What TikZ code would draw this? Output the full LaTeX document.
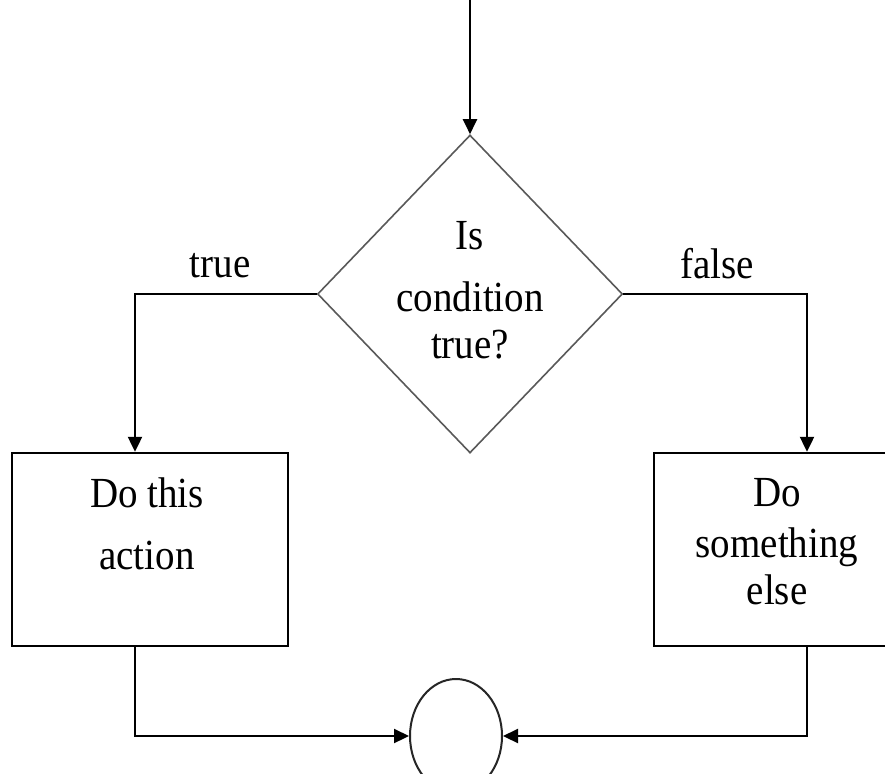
\documentclass[tikz,border=0pt]{standalone}
\usepackage{fontspec}
\setmainfont{Liberation Serif}
\usepackage{graphicx}
\usetikzlibrary{shapes.geometric,arrows.meta}
\newcommand{\stx}[1]{\scalebox{1}[1.1]{\begin{tabular}{@{}c@{}}#1\end{tabular}}}
\begin{document}
\begin{tikzpicture}[x=1pt,y=-1pt,
  txt/.style={inner sep=0pt,font=\fontsize{39}{43}\selectfont},
  conn/.style={line width=2.2pt,-{Triangle[length=15pt,width=14pt]}},
  boxstyle/.style={draw,line width=2.4pt,rectangle,inner sep=0pt}]
\useasboundingbox (0,0) rectangle (885,773);
\fill[white] (0,0) rectangle (885,773);
% decision
\node[draw=black!65,line width=1.6pt,diamond,inner sep=0pt,minimum width=305pt,minimum height=318pt] (d) at (470,294) {};
\node[txt] (dt) at (470,294.5) {\stx{Is\\[13.4pt]condition\\true?}};
% boxes
\node[boxstyle,minimum width=276pt,minimum height=193pt] (lb) at (150,549.5) {};
\node[txt] (lt) at (147,529.5) {\stx{Do this\\[13.4pt]action}};
\node[boxstyle,minimum width=236pt,minimum height=193pt] (rb) at (772,549.5) {};
\node[txt] (rt) at (777,546) {\stx{Do\\[3pt]something\\else}};
% join circle
\node[draw=black!85,line width=2pt,ellipse,inner sep=0pt,minimum width=92pt,minimum height=114pt] (c) at (456,736) {};
% labels
\node[txt,anchor=base] (lt1) at (220,277) {\scalebox{1}[1.1]{true}};
\node[txt,anchor=base] (lf1) at (717,278) {\scalebox{1}[1.1]{false}};
% connectors
\coordinate (start) at (470,-5);
\draw[conn] (start) -- (d.north);
\draw[conn] (d.west) -| ([xshift=-15pt]lb.north);
\draw[conn] (d.east) -| ([xshift=35pt]rb.north);
\draw[conn] ([xshift=-15pt]lb.south) |- (c.west);
\draw[conn] ([xshift=35pt]rb.south) |- (c.east);
\end{tikzpicture}
\end{document}
